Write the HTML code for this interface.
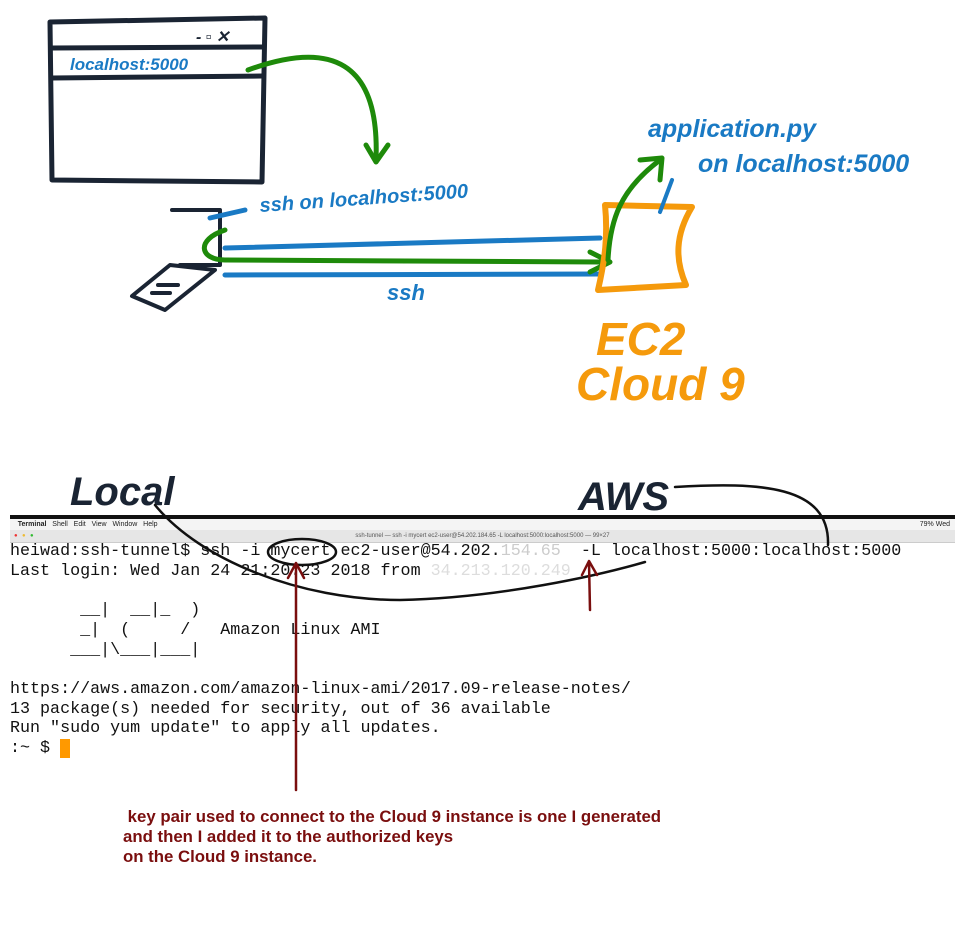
<!DOCTYPE html>
<html><head><meta charset="utf-8"><style>
body{margin:0;width:978px;height:932px;background:#fff;position:relative;overflow:hidden;font-family:"Liberation Sans",sans-serif}
.term{position:absolute;left:10px;top:515px;width:945px;height:265px;background:#fff}
.bar{position:absolute;left:10px;top:515px;width:945px;height:4px;background:#111}
.menu{position:absolute;left:10px;top:519px;width:945px;height:11px;background:#f4f4f4;font-size:7px;line-height:11px;color:#222}
.title{position:absolute;left:10px;top:530px;width:945px;height:12px;background:#e6e6e6;border-bottom:1px solid #ccc;font-size:6px;line-height:12px;text-align:center;color:#555}
pre{position:absolute;left:10px;top:542px;margin:0;font-family:"Liberation Mono",monospace;font-size:16.7px;line-height:19.7px;color:#111}
.note{position:absolute;left:123px;top:807px;color:#7a0e0e;font-weight:bold;font-size:16.8px;line-height:20px}
.hw{font-family:"Liberation Sans",sans-serif;font-style:italic;font-weight:bold}
</style></head><body>
<div class="term"></div>
<div class="bar"></div>
<div class="menu">&nbsp;&nbsp;&nbsp;&nbsp;<b>Terminal</b>&nbsp;&nbsp; Shell&nbsp;&nbsp; Edit&nbsp;&nbsp; View&nbsp;&nbsp; Window&nbsp;&nbsp; Help<span style="position:absolute;right:5px">79% Wed</span></div>
<div class="title"><span style="position:absolute;left:4px;top:0;color:#e33">●</span><span style="position:absolute;left:12px;color:#eb3">●</span><span style="position:absolute;left:20px;color:#3b3">●</span>ssh-tunnel — ssh -i mycert ec2-user@54.202.184.65 -L localhost:5000:localhost:5000 — 99×27</div>
<pre>heiwad:ssh-tunnel$ ssh -i mycert ec2-user@54.202.<span style="color:#ccc">154.65</span>  -L localhost:5000:localhost:5000
Last login: Wed Jan 24 21:20:23 2018 from <span style="color:#ddd">34.213.120.249</span>

       __|  __|_  )
       _|  (     /   Amazon Linux AMI
      ___|\___|___|

https://aws.amazon.com/amazon-linux-ami/2017.09-release-notes/
13 package(s) needed for security, out of 36 available
Run "sudo yum update" to apply all updates.
:~ $ <span style="background:#f90">&nbsp;</span></pre>
<div class="note">&nbsp;key pair used to connect to the Cloud 9 instance is one I generated<br>and then I added it to the authorized keys<br>on the Cloud 9 instance.</div>
<svg width="978" height="932" style="position:absolute;left:0;top:0" fill="none" stroke-linecap="round" stroke-linejoin="round">
<g stroke="#1a2433" stroke-width="5">
<path d="M50 22 L265 18 L262 182 L52 180 Z"/>
<path d="M52 48 L263 47"/><path d="M52 78 L262 76"/>
</g>
<text x="196" y="42" font-size="16" fill="#1a2433" class="hw">- ▫ ✕</text>
<text x="70" y="70" font-size="17" fill="#1a7ac4" class="hw">localhost:5000</text>
<path d="M248 70 C330 40 380 60 376 160" stroke="#1e8a0a" stroke-width="5"/>
<path d="M366 145 L376 162 L388 145" stroke="#1e8a0a" stroke-width="5"/>
<text x="260" y="212" font-size="20" fill="#1a7ac4" class="hw" transform="rotate(-4 260 212)">ssh on localhost:5000</text>
<g stroke="#1a2433" stroke-width="4">
<path d="M172 210 L220 210 L220 265 L180 265"/>
<path d="M170 265 L215 270 L165 310 L132 296 Z"/>
<path d="M158 285 L178 285"/><path d="M152 293 L170 293"/>
</g>
<path d="M210 218 L245 210" stroke="#1a7ac4" stroke-width="5"/>
<path d="M225 248 L600 238" stroke="#1a7ac4" stroke-width="5"/>
<path d="M225 275 L600 274" stroke="#1a7ac4" stroke-width="5"/>
<path d="M225 230 C195 240 200 260 225 260 L600 262" stroke="#1e8a0a" stroke-width="5"/>
<path d="M590 252 L610 262 L590 272" stroke="#1e8a0a" stroke-width="5"/>
<text x="387" y="300" font-size="22" fill="#1a7ac4" class="hw">ssh</text>
<path d="M605 205 L692 207 C675 235 675 260 686 285 L598 290 C605 260 608 235 605 205 Z" stroke="#f59a0c" stroke-width="6"/>
<path d="M608 260 C610 220 620 190 660 160" stroke="#1e8a0a" stroke-width="5"/>
<path d="M640 160 L662 158 L660 180" stroke="#1e8a0a" stroke-width="5"/>
<path d="M672 180 L660 212" stroke="#1a7ac4" stroke-width="4"/>
<text x="648" y="137" font-size="25" fill="#1a7ac4" class="hw">application.py</text>
<text x="698" y="172" font-size="25" fill="#1a7ac4" class="hw">on localhost:5000</text>
<text x="596" y="355" font-size="46" fill="#f59a0c" class="hw">EC2</text>
<text x="576" y="400" font-size="46" fill="#f59a0c" class="hw">Cloud 9</text>
<text x="70" y="505" font-size="40" fill="#1a2433" class="hw">Local</text>
<text x="578" y="510" font-size="40" fill="#1a2433" class="hw">AWS</text>
<path d="M155 505 C200 560 300 600 400 600 C500 598 600 575 645 562" stroke="#111" stroke-width="2.5"/>
<path d="M675 487 C760 482 830 485 828 545" stroke="#111" stroke-width="2.5"/>
<ellipse cx="302" cy="552" rx="34" ry="13" stroke="#111" stroke-width="2.5"/>
<path d="M296 790 L296 565 M288 578 L296 563 L304 578" stroke="#7a0e0e" stroke-width="2.5"/>
<path d="M590 610 L589 562 M582 575 L589 561 L597 575" stroke="#7a0e0e" stroke-width="2.5"/>
</svg>
</body></html>
